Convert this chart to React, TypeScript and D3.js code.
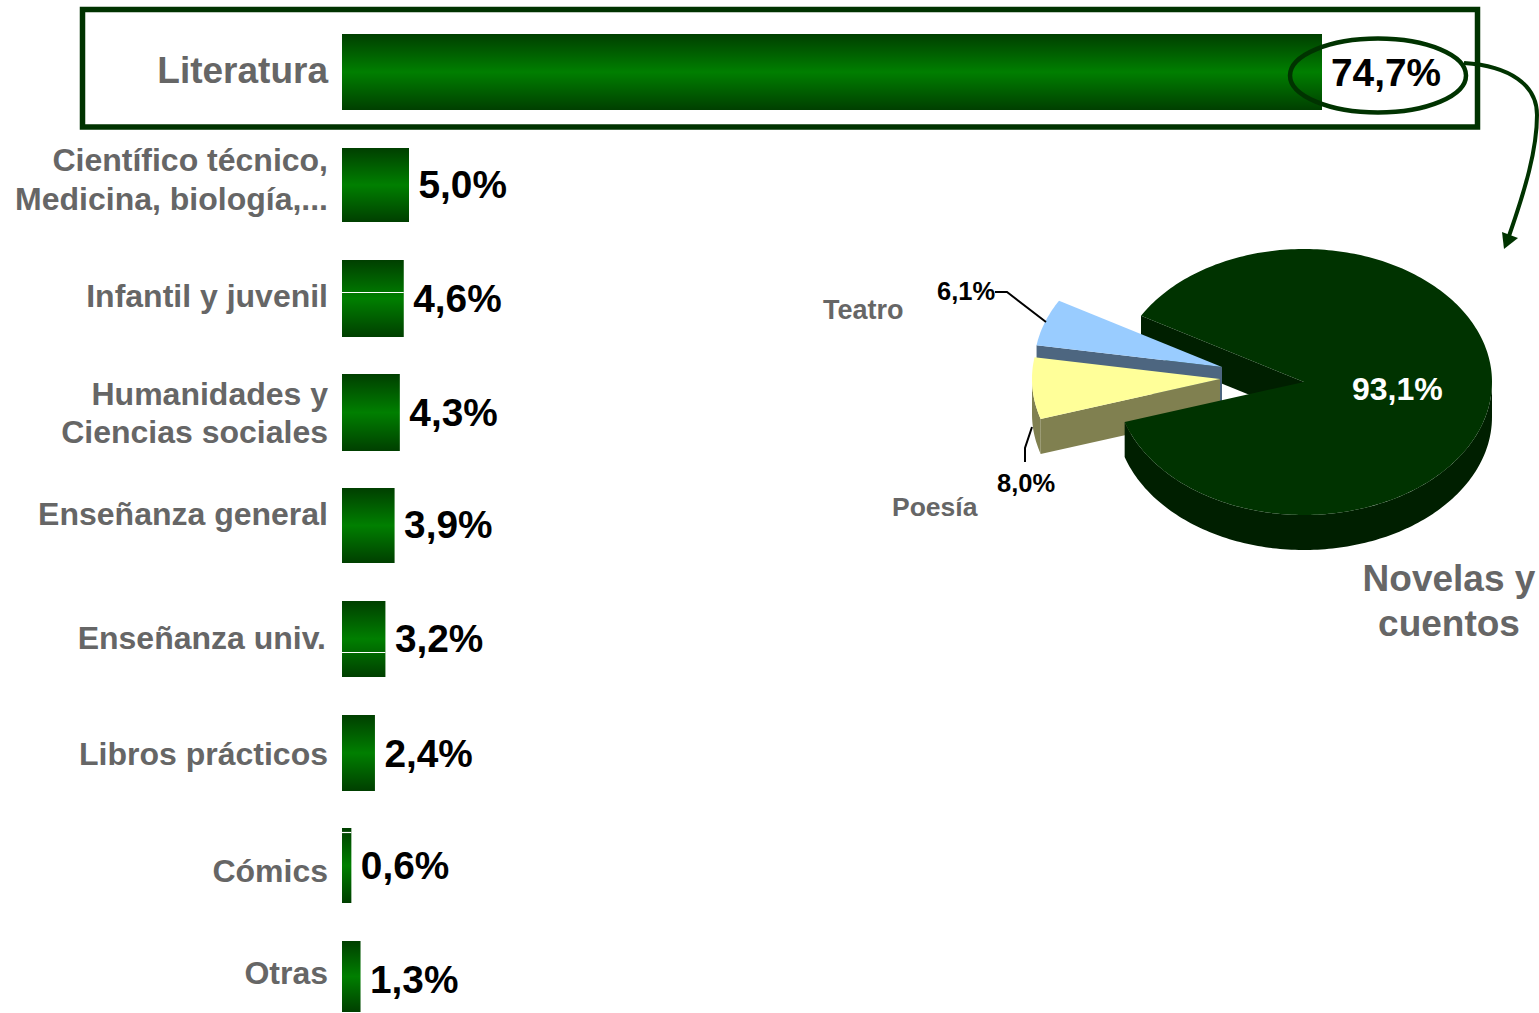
import React from "react";
import * as d3 from "d3";

const categories = ["Literatura", "Científico técnico,|Medicina, biología,...", "Infantil y juvenil", "Humanidades y|Ciencias sociales", "Enseñanza general", "Enseñanza univ.", "Libros prácticos", "Cómics", "Otras"];
const shares = [74.7, 5.0, 4.6, 4.3, 3.9, 3.2, 2.4, 0.6, 1.3];
const shareLabels = ["74,7%", "5,0%", "4,6%", "4,3%", "3,9%", "3,2%", "2,4%", "0,6%", "1,3%"];
const pieNames = ["Novelas y cuentos", "Poesía", "Teatro"];
const pieValues = [93.1, 8.0, 6.1];

const barTops = [34, 148, 260, 374, 488, 601, 715, 828, 941];
const barBottoms = [110, 222, 337, 451, 563, 677, 791, 903, 1012];
const valueBaselines = [86, 198, 312, 426, 538, 652, 767, 879, 993];
const labelBaselines = [[83], [171, 210], [307], [405, 443], [525], [649], [765], [882], [984]];
const labelRight = [328, 328, 328, 328, 328, 326, 328, 328, 328];
const labelSize = [37, 32, 32, 32, 32, 32, 32, 32, 32];
const whiteLines: Record<number, number> = { 2: 292.5, 5: 652.5, 7: 832.5 };

const x = d3.scaleLinear().domain([0, 74.7]).range([343.5, 1322]);
const X0 = 342;
const FONT = "'Liberation Sans', Arial, sans-serif";
const DARK = "#003300";

const CX = 1304, CY = 382, RX = 188, RY = 133, DEPTH = 35;
const startA = (-60.1 * Math.PI) / 180;
const arcs = d3.pie<number>().sort(null).startAngle(startA).endAngle(startA + 2 * Math.PI)(pieValues);
const pt = (a: number, ox = 0, oy = 0, dy = 0): [number, number] => [CX + ox + RX * Math.sin(a), CY + oy + dy - RY * Math.cos(a)];
const line = d3.line();
const arcPts = (a0: number, a1: number, ox = 0, oy = 0, dy = 0) => {
  const n = Math.max(2, Math.ceil(Math.abs(a1 - a0) / 0.02));
  return d3.range(n + 1).map((i) => pt(a0 + ((a1 - a0) * i) / n, ox, oy, dy));
};
const wedge = (a0: number, a1: number, ox = 0, oy = 0) => line([[CX + ox, CY + oy], ...arcPts(a0, a1, ox, oy)]) + "Z";
const rimWall = (a0: number, a1: number, ox = 0, oy = 0) => line([...arcPts(a0, a1, ox, oy), ...arcPts(a1, a0, ox, oy, DEPTH)]) + "Z";
const cutWall = (a: number, ox = 0, oy = 0) => {
  const p = pt(a, ox, oy);
  return line([p, [CX + ox, CY + oy], [CX + ox, CY + oy + DEPTH], [p[0], p[1] + DEPTH]]) + "Z";
};

export default function App() {
  const main = arcs[0], poesia = arcs[1], teatro = arcs[2];
  const HALF = Math.PI;
  return (
    <svg width={1539} height={1013} viewBox="0 0 1539 1013" style={{ position: "absolute", left: 0, top: 0, background: "#fff" }} fontFamily={FONT} fontWeight="bold">
      <defs>
        <linearGradient id="barGrad" x1="0" y1="0" x2="0" y2="1">
          <stop offset="0" stopColor="#003f00" />
          <stop offset="0.5" stopColor="#007f00" />
          <stop offset="1" stopColor="#003f00" />
        </linearGradient>
      </defs>

      <rect x={82.5} y={9.5} width={1395} height={117.5} fill="none" stroke={DARK} strokeWidth={5.5} />

      {shares.map((v, i) => (
        <g key={i}>
          <rect x={X0} y={barTops[i]} width={x(v) - X0} height={barBottoms[i] - barTops[i]} fill="url(#barGrad)" />
          {whiteLines[i] !== undefined && <line x1={X0} x2={x(v)} y1={whiteLines[i]} y2={whiteLines[i]} stroke="#fff" strokeWidth={1.2} />}
          {i > 0 && <text x={x(v) + 9.5} y={valueBaselines[i]} fontSize={38.8} fill="#000">{shareLabels[i]}</text>}
          {categories[i].split("|").map((t, j) => (
            <text key={j} x={labelRight[i]} y={labelBaselines[i][j]} fontSize={labelSize[i]} fill="#666666" textAnchor="end">{t}</text>
          ))}
        </g>
      ))}
      <text x={1331} y={86} fontSize={38.8} fill="#000">{shareLabels[0]}</text>
      <ellipse cx={1378} cy={75.5} rx={88} ry={37} fill="none" stroke={DARK} strokeWidth={4.5} />

      <path d="M1464,63 C1510,66 1537,85 1537,115 C1537,150 1525,190 1509,236" fill="none" stroke={DARK} strokeWidth={4} />
      <path d="M1504,249 L1502,232 L1518,238 Z" fill={DARK} />

      {/* inner wall of the main slice, behind the exploded slices */}
      <path d={cutWall(main.startAngle)} fill="#001f00" />

      {/* Teatro */}
      <path d={cutWall(teatro.startAngle, -82, -15)} fill="#4d6680" />
      <path d={wedge(teatro.startAngle, teatro.endAngle, -82, -15)} fill="#99ccff" />

      {/* Poesía */}
      <path d={cutWall(poesia.startAngle, -84, -3)} fill="#808050" />
      <path d={rimWall(poesia.startAngle, 1.5 * HALF, -84, -3)} fill="#808050" />
      <path d={wedge(poesia.startAngle, poesia.endAngle, -84, -3)} fill="#ffff99" />

      {/* main slice */}
      <path d={rimWall(HALF / 2, main.endAngle)} fill="#001f00" />
      <path d={wedge(main.startAngle, main.endAngle)} fill={DARK} />

      <text x={1352} y={400} fontSize={32} fill="#fff">93,1%</text>

      <path d="M995,292 H1007 L1046,322" fill="none" stroke="#000" strokeWidth={2} />
      <path d="M1032,427 L1025,448 V462" fill="none" stroke="#000" strokeWidth={2} />
      <text x={937} y={300} fontSize={25.5} fill="#000">6,1%</text>
      <text x={997} y={492} fontSize={25.5} fill="#000">8,0%</text>
      <text x={823} y={319} fontSize={27} fill="#666666">{pieNames[2]}</text>
      <text x={892} y={516} fontSize={26.5} fill="#666666">{pieNames[1]}</text>
      <text x={1449} y={591} fontSize={37} fill="#666666" textAnchor="middle">Novelas y</text>
      <text x={1449} y={636} fontSize={37} fill="#666666" textAnchor="middle">cuentos</text>
    </svg>
  );
}
